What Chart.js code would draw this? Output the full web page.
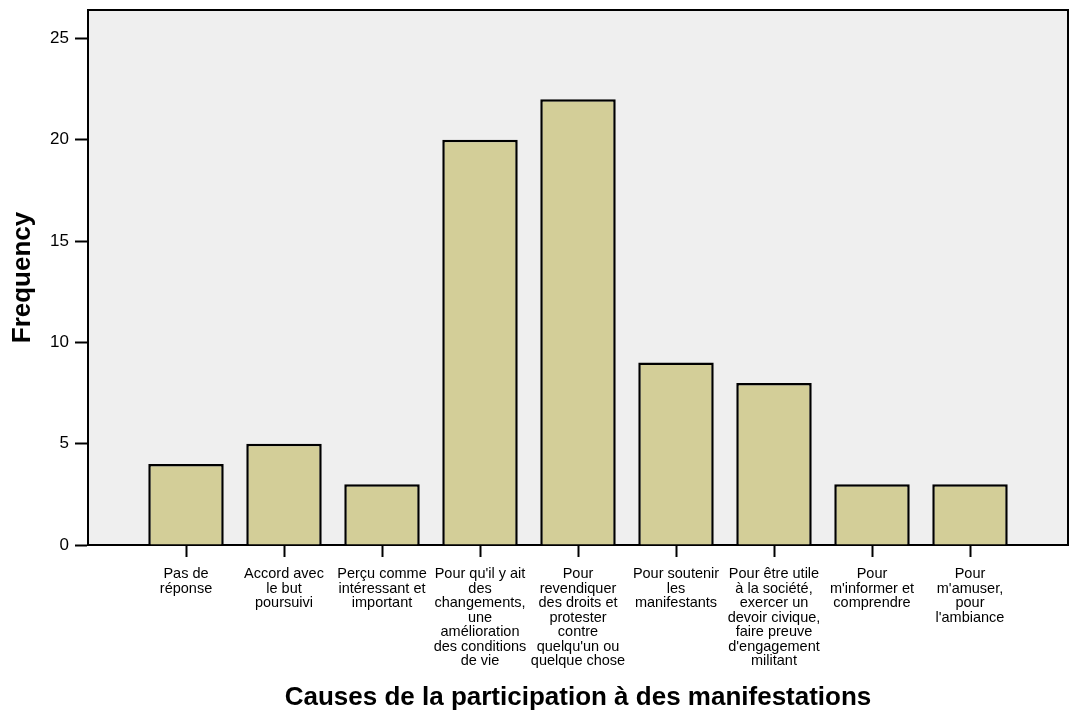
<!DOCTYPE html>
<html>
<head>
<meta charset="utf-8">
<script src="https://cdn.jsdelivr.net/npm/chart.js@4.4.1/dist/chart.umd.min.js"></script>
<style>
  body { margin: 0; background: #fff; }
  canvas { display: block; }
</style>
</head>
<body>
<canvas id="causesChart" width="1069" height="713"></canvas>
<script>
// categories (multi-line labels as in the original)
const causes = [
  ['Pas de', 'réponse'],
  ['Accord avec', 'le but', 'poursuivi'],
  ['Perçu comme', 'intéressant et', 'important'],
  ["Pour qu'il y ait", 'des', 'changements,', 'une', 'amélioration', 'des conditions', 'de vie'],
  ['Pour', 'revendiquer', 'des droits et', 'protester', 'contre', "quelqu'un ou", 'quelque chose'],
  ['Pour soutenir', 'les', 'manifestants'],
  ['Pour être utile', 'à la société,', 'exercer un', 'devoir civique,', 'faire preuve', "d'engagement", 'militant'],
  ['Pour', "m'informer et", 'comprendre'],
  ['Pour', "m'amuser,", 'pour', "l'ambiance"]
];
const frequency = [4, 5, 3, 20, 22, 9, 8, 3, 3];
const yTicks = [0, 5, 10, 15, 20, 25];

const FONT = "'Liberation Sans', Arial, Helvetica, sans-serif";

// empty slot at each end so the bars sit one step in from the frame
const labels = [''].concat(causes, ['']);
const values = [null].concat(frequency, [null]);

const framePlugin = {
  id: 'frame',
  beforeDraw(chart) {
    const { ctx, chartArea: a } = chart;
    ctx.save();
    ctx.fillStyle = '#ffffff';
    ctx.fillRect(0, 0, chart.width, chart.height);
    ctx.fillStyle = '#efefef';
    ctx.fillRect(a.left, a.top, a.right - a.left, a.bottom - a.top);
    ctx.restore();
  },
  afterDraw(chart) {
    const { ctx, chartArea: a } = chart;
    ctx.save();
    ctx.strokeStyle = '#000';
    ctx.lineWidth = 2;
    ctx.beginPath();
    ctx.moveTo(a.left, a.top);
    ctx.lineTo(a.right, a.top);
    ctx.lineTo(a.right, a.bottom);
    ctx.stroke();
    ctx.restore();
  }
};

new Chart(document.getElementById('causesChart').getContext('2d'), {
  type: 'bar',
  data: {
    labels: labels,
    datasets: [{
      label: 'Frequency',
      data: values,
      backgroundColor: '#d3ce98',
      borderColor: '#000',
      borderWidth: 2.5,
      barPercentage: 0.77,
      categoryPercentage: 1
    }]
  },
  options: {
    responsive: false,
    animation: false,
    layout: { padding: { left: 0, right: 1, top: 10, bottom: 0 } },
    plugins: {
      legend: { display: false },
      tooltip: { enabled: false }
    },
    scales: {
      x: {
        type: 'category',
        offset: false,
        z: 1,
        border: { display: true, color: '#000', width: 2 },
        grid: {
          offset: false,
          drawOnChartArea: false,
          drawTicks: true,
          tickLength: 12,
          tickWidth: 2,
          tickColor: c => (c.index === 0 || c.index === labels.length - 1) ? 'rgba(0,0,0,0)' : '#000'
        },
        ticks: {
          autoSkip: false,
          maxRotation: 0,
          minRotation: 0,
          padding: 10,
          color: '#000',
          font: { family: FONT, size: 14.5, lineHeight: 1 }
        },
        title: {
          display: true,
          text: 'Causes de la participation à des manifestations',
          color: '#000',
          font: { family: FONT, size: 26, weight: 'bold' },
          padding: { top: 0, bottom: 0 }
        },
        afterFit: s => {
          s.height = 168;
          s.paddingLeft = 0;
          s.paddingRight = 0;
        }
      },
      y: {
        min: 0,
        max: 26.4,
        border: { display: true, color: '#000', width: 2 },
        grid: {
          drawOnChartArea: false,
          drawTicks: true,
          tickLength: 13,
          tickWidth: 2,
          tickColor: '#000'
        },
        ticks: {
          padding: 6,
          color: '#000',
          font: { family: FONT, size: 17 }
        },
        afterBuildTicks: s => { s.ticks = yTicks.map(v => ({ value: v })); },
        title: {
          display: true,
          text: 'Frequency',
          color: '#000',
          font: { family: FONT, size: 26, weight: 'bold' },
          padding: { top: 7, bottom: 0 }
        },
        afterFit: s => {
          s.width = 88;
          s.paddingTop = 0;
          s.paddingBottom = 0;
        }
      }
    }
  },
  plugins: [framePlugin]
});
</script>
</body>
</html>
